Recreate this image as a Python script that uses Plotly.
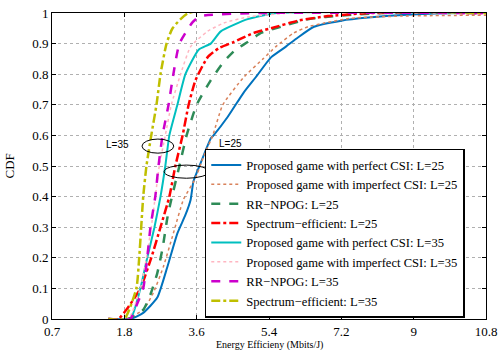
import plotly.graph_objects as go

# x tick positions (axis units) and their printed labels
tick_vals = [0, 1.8, 3.6, 5.4, 7.2, 9.0, 10.8]
tick_text = ["0.7", "1.8", "3.6", "5.4", "7.2", "9", "10.8"]
y_ticks = [0, 0.1, 0.2, 0.3, 0.4, 0.5, 0.6, 0.7, 0.8, 0.9, 1.0]

# Proposed game, perfect CSI, L=25
p25_x = [1.4, 1.95, 2.27, 2.62, 2.87, 3.12, 3.32, 3.45, 3.52, 3.7, 3.95, 4.02, 4.37, 4.77, 5.07, 5.45, 5.82, 6.12, 6.52, 7.2, 7.87, 8.95, 10.2, 10.8]
p25_y = [0, 0, 0.02, 0.07, 0.17, 0.28, 0.34, 0.39, 0.45, 0.51, 0.59, 0.6, 0.66, 0.74, 0.79, 0.855, 0.89, 0.92, 0.955, 0.975, 0.985, 0.995, 1.0, 1.0]
# Proposed game, imperfect CSI, L=25
i25_x = [1.4, 1.83, 2.27, 2.52, 2.77, 3.02, 3.27, 3.57, 3.77, 4.0, 4.25, 4.77, 5.25, 5.57, 6.02, 6.37, 6.77, 7.45, 8.7, 10.8]
i25_y = [0, 0, 0.03, 0.085, 0.17, 0.28, 0.39, 0.46, 0.53, 0.6, 0.7, 0.79, 0.85, 0.89, 0.935, 0.955, 0.967, 0.983, 0.99, 0.993]
# RR-NPOG L=25
rr25_x = [1.4, 1.9, 2.27, 2.45, 2.62, 2.75, 2.87, 2.95, 3.17, 3.35, 3.6, 3.95, 4.27, 4.57, 4.87, 5.2, 5.7, 6.27, 6.77, 8.2, 10.8]
rr25_y = [0, 0, 0.03, 0.08, 0.15, 0.23, 0.33, 0.38, 0.5, 0.6, 0.7, 0.78, 0.84, 0.88, 0.905, 0.935, 0.955, 0.977, 0.987, 1.0, 1.0]
# Spectrum-efficient L=25
se25_x = [1.4, 1.65, 1.85, 2.2, 2.47, 2.7, 2.92, 3.07, 3.25, 3.4, 3.57, 3.87, 4.15, 4.52, 5.02, 5.45, 6.12, 6.87, 7.95, 10.8]
se25_y = [0, 0, 0.03, 0.1, 0.2, 0.3, 0.4, 0.5, 0.6, 0.7, 0.78, 0.855, 0.885, 0.905, 0.935, 0.95, 0.975, 0.99, 1.0, 1.0]
# Proposed game, perfect CSI, L=35
p35_x = [1.4, 1.95, 2.2, 2.37, 2.55, 2.7, 2.82, 2.92, 3.12, 3.32, 3.65, 3.95, 4.2, 4.87, 5.6, 10.8]
p35_y = [0, 0, 0.1, 0.2, 0.3, 0.4, 0.5, 0.6, 0.7, 0.8, 0.88, 0.9, 0.94, 0.98, 1.0, 1.0]
# Proposed game, imperfect CSI, L=35
i35_x = [1.4, 1.9, 2.2, 2.35, 2.47, 2.57, 2.67, 2.82, 2.97, 3.2, 3.45, 3.87, 4.27, 4.87, 5.95, 10.8]
i35_y = [0, 0, 0.1, 0.2, 0.3, 0.4, 0.5, 0.6, 0.7, 0.8, 0.89, 0.94, 0.967, 0.987, 1.0, 1.0]
# RR-NPOG L=35
rr35_x = [1.4, 1.95, 2.12, 2.27, 2.37, 2.45, 2.57, 2.65, 2.75, 2.9, 3.02, 3.17, 3.5, 3.7, 5.2, 10.8]
rr35_y = [0, 0, 0.05, 0.1, 0.2, 0.3, 0.4, 0.5, 0.6, 0.7, 0.8, 0.9, 0.97, 0.99, 1.0, 1.0]
# Spectrum-efficient L=35
se35_x = [1.4, 1.8, 2.1, 2.17, 2.22, 2.27, 2.35, 2.47, 2.6, 2.7, 2.85, 3.0, 3.4, 10.8]
se35_y = [0, 0, 0.1, 0.2, 0.3, 0.4, 0.5, 0.6, 0.7, 0.8, 0.9, 0.95, 1.0, 1.0]

series = [
    ("Proposed game with perfect CSI: L=25", p25_x, p25_y, "#0072BD", "solid", 2),
    ("Proposed game with imperfect CSI: L=25", i25_x, i25_y, "#D9825B", "dot", 1.5),
    ("RR\u2212NPOG: L=25", rr25_x, rr25_y, "#2E8B57", "dash", 2.5),
    ("Spectrum\u2212efficient: L=25", se25_x, se25_y, "#FF0000", "dashdot", 2.5),
    ("Proposed game with perfect CSI: L=35", p35_x, p35_y, "#00BFBF", "solid", 2),
    ("Proposed game with imperfect CSI: L=35", i35_x, i35_y, "#FFB6C1", "dot", 1.5),
    ("RR\u2212NPOG: L=35", rr35_x, rr35_y, "#CC00CC", "dash", 2.5),
    ("Spectrum\u2212efficient: L=35", se35_x, se35_y, "#BFBF00", "dashdot", 2.5),
]

fig = go.Figure()
for name, xs, ys, color, dash, w in series:
    fig.add_trace(go.Scatter(x=xs, y=ys, mode="lines", name=name,
                             line=dict(color=color, dash=dash, width=w, shape="spline", smoothing=0.5)))

serif = "Liberation Serif, Times New Roman, serif"
axis_common = dict(showline=True, linecolor="black", linewidth=1, mirror="ticks",
                   ticks="inside", ticklen=4, tickcolor="black", automargin=False,
                   showgrid=True, gridcolor="#b0b0b0", griddash="dot", gridwidth=1,
                   zeroline=False, tickfont=dict(family=serif, size=13, color="black"))

fig.update_xaxes(range=[0, 10.8], tickvals=tick_vals, ticktext=tick_text, ticklabelstandoff=0,
                 **axis_common)
fig.update_yaxes(range=[0, 1], tickvals=y_ticks, ticktext=[("%g" % v) for v in y_ticks],
                 **axis_common)

# axis titles
fig.add_annotation(xref="paper", yref="paper", x=0.5, y=-0.06, yanchor="top",
                   text="Energy Efficieny (Mbits/J)", showarrow=False,
                   font=dict(family=serif, size=10, color="black"))
fig.add_annotation(xref="paper", yref="paper", x=-0.098, y=0.5, xanchor="center", textangle=-90,
                   text="CDF", showarrow=False,
                   font=dict(family=serif, size=13, color="black"))

fig.add_shape(type="circle", xref="x", yref="y", x0=2.24, x1=3.03, y0=0.542, y1=0.588,
              line=dict(color="black", width=1))
fig.add_shape(type="circle", xref="x", yref="y", x0=2.79, x1=3.9, y0=0.46, y1=0.503,
              line=dict(color="black", width=1))
fig.add_annotation(x=1.62, y=0.57, text="L=35", showarrow=False,
                   font=dict(family="Liberation Sans, Arial, sans-serif", size=10, color="black"))
fig.add_annotation(x=4.43, y=0.548, yanchor="bottom", text="L=25", showarrow=False,
                   font=dict(family="Liberation Sans, Arial, sans-serif", size=10, color="black"))

fig.update_layout(
    width=498, height=350,
    margin=dict(l=52, r=12, t=13, b=31, autoexpand=False),
    paper_bgcolor="white", plot_bgcolor="white",
    showlegend=True,
    legend=dict(x=0.352, y=0.004, xanchor="left", yanchor="bottom",
                bgcolor="white", bordercolor="black", borderwidth=1.5,
                font=dict(family=serif, size=12.6, color="black"),
                tracegroupgap=0, itemwidth=30),
)

fig.write_html("out.html", config={"displayModeBar": False},
               post_script="document.body.style.margin='0';document.body.style.overflow='hidden';")
